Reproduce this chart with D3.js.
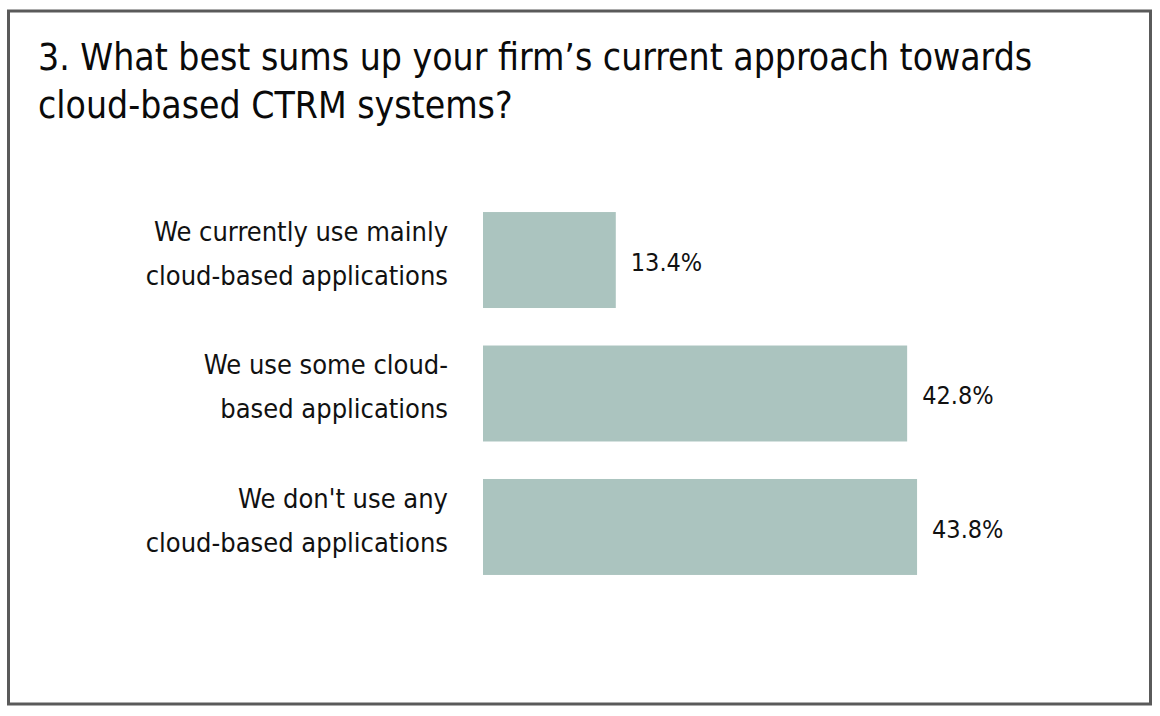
<!DOCTYPE html>
<html><head><meta charset="utf-8">
<script src="https://cdn.jsdelivr.net/npm/d3@7"></script>
<style>
body{margin:0;background:#fff;}
svg{display:block;}
</style></head><body>
<svg id="chart" width="1160" height="716"></svg>
<script>
const titleLines = ["3. What best sums up your firm\u2019s current approach towards", "cloud-based CTRM systems?"];
const categories = [
  ["We currently use mainly", "cloud-based applications"],
  ["We use some cloud-", "based applications"],
  ["We don't use any", "cloud-based applications"]
];
const values = [13.4, 42.8, 43.8];
const valueLabels = ["13.4%", "42.8%", "43.8%"];

const svg = d3.select("#chart");
const font = "'Liberation Sans Narrow', 'DejaVu Sans Condensed', sans-serif";

svg.append("rect").attr("x", 8.5).attr("y", 11).attr("width", 1142).attr("height", 693)
  .attr("fill", "#fff").attr("stroke", "#5a5a5a").attr("stroke-width", 3);

svg.append("g").selectAll("text").data(titleLines).join("text")
  .attr("x", 38).attr("y", (d, i) => 70 + i * 48)
  .attr("font-family", font).attr("font-size", 37).attr("fill", "#0a0a0a")
  .text(d => d);

const x = d3.scaleLinear().domain([0, 50]).range([483, 483 + 50 * 9.91]);
const y = d3.scaleBand().domain(d3.range(values.length)).range([172, 615]).paddingInner(0.281).paddingOuter(0.3);

const g = svg.append("g");
g.selectAll("rect.bar").data(values).join("rect").attr("class", "bar")
  .attr("x", x(0)).attr("y", (d, i) => y(i)).attr("width", d => x(d) - x(0)).attr("height", y.bandwidth())
  .attr("fill", "#abc4bf");

g.selectAll("text.val").data(values).join("text").attr("class", "val")
  .attr("x", d => x(d) + 15).attr("y", (d, i) => y(i) + y.bandwidth() / 2 + 2)
  .attr("dy", "0.35em").attr("font-family", font).attr("font-size", 25).attr("fill", "#111")
  .text((d, i) => valueLabels[i]);

const lab = g.selectAll("text.cat").data(categories).join("text").attr("class", "cat")
  .attr("text-anchor", "end").attr("font-family", font).attr("font-size", 27).attr("fill", "#111");
lab.selectAll("tspan").data((d, i) => d.map(t => ({t, i}))).join("tspan")
  .attr("x", 448).attr("y", (d, j) => y(d.i) + y.bandwidth() / 2 - 28.5 + j * 44)
  .attr("dy", "0.35em").text(d => d.t);
</script>
</body></html>
